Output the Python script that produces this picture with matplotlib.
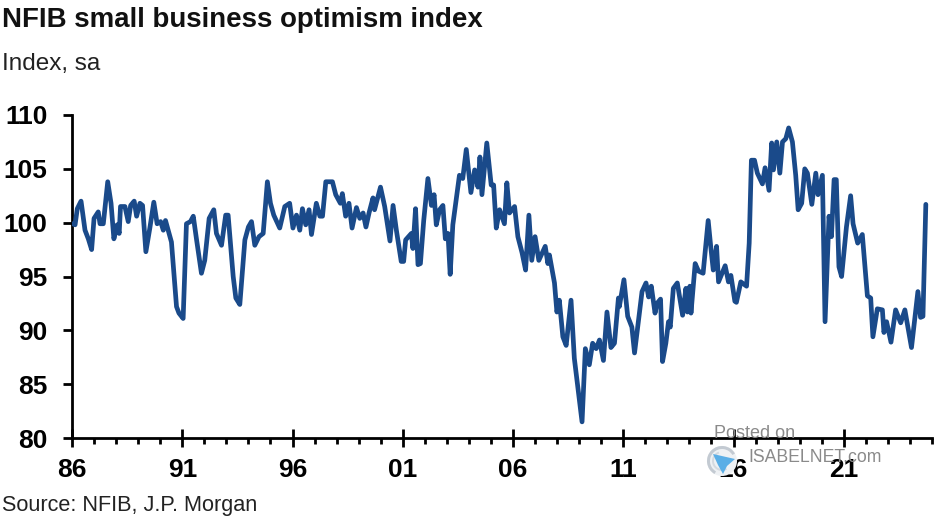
#!/usr/bin/env python
"""NFIB small business optimism index, monthly-style line with year ticks."""
import matplotlib
matplotlib.use("Agg")
import matplotlib.pyplot as plt
from matplotlib.patches import Circle, Polygon, Wedge

# decimal year / index level
years = [
    1986.03, 1986.14, 1986.24, 1986.41, 1986.59, 1986.74, 1986.89, 1987.00, 1987.19, 1987.27,
    1987.42, 1987.62, 1987.77, 1987.90, 1988.05, 1988.14, 1988.20, 1988.40, 1988.55, 1988.66,
    1988.82, 1988.93, 1989.08, 1989.20, 1989.35, 1989.53, 1989.71, 1989.86, 1990.02, 1990.14,
    1990.24, 1990.51, 1990.74, 1990.85, 1991.04, 1991.19, 1991.37, 1991.50, 1991.65, 1991.87,
    1992.02, 1992.22, 1992.43, 1992.55, 1992.78, 1992.97, 1993.08, 1993.31, 1993.43, 1993.61,
    1993.84, 1994.00, 1994.14, 1994.29, 1994.48, 1994.67, 1994.86, 1995.00, 1995.15, 1995.42,
    1995.65, 1995.87, 1996.02, 1996.18, 1996.33, 1996.45, 1996.60, 1996.75, 1996.86, 1997.08,
    1997.24, 1997.36, 1997.51, 1997.81, 1997.96, 1998.17, 1998.26, 1998.41, 1998.56, 1998.70,
    1998.90, 1999.05, 1999.20, 1999.33, 1999.47, 1999.65, 1999.72, 1999.99, 2000.18, 2000.42,
    2000.56, 2000.71, 2000.93, 2001.04, 2001.13, 2001.39, 2001.46, 2001.58, 2001.69, 2001.80,
    2001.95, 2002.14, 2002.30, 2002.42, 2002.52, 2002.67, 2002.82, 2002.93, 2003.05, 2003.15,
    2003.27, 2003.42, 2003.57, 2003.72, 2003.88, 2004.09, 2004.26, 2004.41, 2004.50, 2004.59,
    2004.81, 2005.01, 2005.12, 2005.24, 2005.39, 2005.61, 2005.72, 2005.84, 2006.07, 2006.22,
    2006.41, 2006.57, 2006.72, 2006.85, 2007.00, 2007.17, 2007.46, 2007.58, 2007.65, 2007.88,
    2007.99, 2008.10, 2008.26, 2008.41, 2008.63, 2008.78, 2009.13, 2009.28, 2009.46, 2009.61,
    2009.77, 2009.92, 2010.10, 2010.26, 2010.44, 2010.60, 2010.78, 2010.82, 2011.03, 2011.20,
    2011.39, 2011.51, 2011.85, 2012.03, 2012.15, 2012.27, 2012.44, 2012.53, 2012.69, 2012.78,
    2012.93, 2013.05, 2013.13, 2013.27, 2013.45, 2013.69, 2013.84, 2013.91, 2014.02, 2014.07,
    2014.26, 2014.41, 2014.62, 2014.85, 2014.96, 2015.08, 2015.23, 2015.32, 2015.62, 2015.77,
    2015.88, 2016.06, 2016.13, 2016.33, 2016.59, 2016.71, 2016.81, 2016.95, 2017.08, 2017.31,
    2017.43, 2017.61, 2017.73, 2017.81, 2017.96, 2018.10, 2018.22, 2018.37, 2018.50, 2018.67,
    2018.82, 2018.93, 2019.09, 2019.23, 2019.35, 2019.55, 2019.73, 2019.83, 2020.03, 2020.15,
    2020.33, 2020.44, 2020.56, 2020.66, 2020.78, 2020.90, 2021.12, 2021.31, 2021.42, 2021.63,
    2021.84, 2022.07, 2022.22, 2022.32, 2022.52, 2022.75, 2022.82, 2022.94, 2023.14, 2023.35,
    2023.58, 2023.77, 2024.07, 2024.36, 2024.48, 2024.59, 2024.72,
]
index_level = [
    99.9, 99.8, 101.3, 102.0, 99.3, 98.5, 97.5, 100.4, 101.0, 99.9,
    99.9, 103.8, 101.8, 98.5, 99.8, 99.0, 101.5, 101.5, 100.1, 101.6,
    102.0, 100.6, 101.8, 101.6, 97.3, 99.5, 101.9, 99.9, 100.1, 99.3,
    100.2, 98.2, 92.2, 91.6, 91.1, 99.9, 100.1, 100.6, 98.4, 95.3,
    96.5, 100.4, 101.2, 99.0, 97.9, 100.7, 100.7, 95.0, 93.0, 92.4,
    98.4, 99.6, 100.1, 97.9, 98.7, 99.0, 103.8, 101.8, 100.7, 99.5,
    101.5, 101.8, 99.5, 100.7, 99.3, 101.3, 99.8, 101.2, 98.9, 101.8,
    100.6, 100.6, 103.8, 103.8, 102.6, 101.8, 102.7, 100.6, 101.8, 99.5,
    101.4, 100.4, 100.9, 99.6, 100.9, 102.3, 101.2, 103.3, 101.5, 98.3,
    101.6, 99.3, 96.4, 96.4, 98.4, 99.0, 97.6, 101.3, 96.1, 96.2,
    100.2, 104.1, 101.6, 102.6, 99.8, 101.2, 101.6, 98.5, 99.0, 95.2,
    99.8, 102.1, 104.4, 104.1, 106.8, 102.8, 104.9, 103.3, 106.1, 102.6,
    107.4, 103.5, 103.5, 99.5, 101.2, 99.9, 103.7, 100.9, 101.5, 98.7,
    97.2, 95.6, 100.7, 96.5, 98.7, 96.5, 97.8, 96.2, 97.0, 94.4,
    91.7, 92.8, 89.4, 88.6, 92.8, 87.4, 81.5, 88.3, 86.8, 88.8,
    88.3, 89.1, 87.2, 91.7, 88.4, 88.8, 93.0, 92.2, 94.7, 91.3,
    90.3, 87.9, 93.6, 94.4, 93.1, 94.1, 91.6, 92.5, 92.9, 87.1,
    88.8, 90.8, 90.3, 93.9, 94.4, 91.4, 93.9, 91.7, 94.1, 91.6,
    96.2, 95.5, 95.3, 100.2, 97.9, 95.6, 97.8, 94.5, 96.0, 94.5,
    95.1, 92.7, 92.6, 94.5, 94.1, 98.1, 105.8, 105.8, 104.6, 103.6,
    105.1, 103.0, 107.4, 104.9, 107.5, 104.6, 107.5, 107.8, 108.8, 107.5,
    104.4, 101.2, 101.8, 105.0, 104.6, 101.7, 104.6, 102.6, 104.4, 90.8,
    100.6, 98.7, 104.0, 104.0, 95.9, 95.0, 99.6, 102.5, 99.9, 98.1,
    98.9, 93.2, 93.0, 89.4, 92.0, 91.9, 89.8, 90.8, 88.9, 91.9,
    90.7, 91.9, 88.4, 93.6, 91.2, 91.3, 101.7,
]
y_ticks = [80, 85, 90, 95, 100, 105, 110]
x_tick_years = [1986, 1991, 1996, 2001, 2006, 2011, 2016, 2021]
x_tick_labels = ["86", "91", "96", "01", "06", "11", "16", "21"]
minor_years = list(range(1986, 2026))

W, H = 936, 520
LINE = "#1a4a8a"

plt.rcParams["font.family"] = ["Liberation Sans", "DejaVu Sans"]
fig = plt.figure(figsize=(W / 100, H / 100), dpi=100, facecolor="white")
ax = fig.add_axes([72 / W, 1 - 438 / H, 860 / W, 323 / H])

ax.plot(years, index_level, color=LINE, lw=3.4, solid_joinstyle="round",
        solid_capstyle="round", zorder=3)
ax.set_xlim(1986, 2025)
ax.set_ylim(80, 110)

for side in ("top", "right"):
    ax.spines[side].set_visible(False)
for side in ("left", "bottom"):
    ax.spines[side].set_linewidth(2.0)

ax.set_yticks(y_ticks)
ax.set_xticks(x_tick_years)
ax.set_xticklabels(x_tick_labels)
ax.set_xticks(minor_years, minor=True)
ax.tick_params(axis="y", direction="out", length=6.5, width=2.0, labelsize=19, pad=11)
ax.tick_params(axis="x", which="major", direction="inout", length=13, width=2.0, labelsize=19, pad=8)
ax.tick_params(axis="x", which="minor", direction="out", length=4, width=2.0)
for lab in ax.get_xticklabels() + ax.get_yticklabels():
    lab.set_fontweight("bold")

fig.text(2 / W, 1 - 20 / H, "NFIB small business optimism index", fontsize=19.9,
         fontweight="bold", va="center", color="#111111")
fig.text(2 / W, 1 - 64 / H, "Index, sa", fontsize=17.5, va="center", color="#222222")
fig.text(2 / W, 1 - 506 / H, "Source: NFIB, J.P. Morgan", fontsize=15.6, va="center", color="#222222")

# watermark sits above the axes
GREY = "#8a8a8a"
fig.text(714 / W, 1 - 433 / H, "Posted on", fontsize=13, va="center", color=GREY, zorder=10)
fig.text(748 / W, 1 - 458 / H, "ISABELNET.com", fontsize=12.7, va="center", color=GREY, zorder=10)

# logo drawn in pixel coordinates over the whole figure
logo = fig.add_axes([0, 0, 1, 1], facecolor="none", zorder=9)
logo.set_xlim(0, W)
logo.set_ylim(H, 0)
logo.axis("off")
logo.add_patch(Circle((722, 461), 15, fc="#eef1f4", ec="none"))
logo.add_patch(Wedge((722, 461), 15, 120, 330, width=3, fc="#c3cad2", ec="none"))
logo.add_patch(Wedge((722, 461), 10, 60, 250, width=2, fc="#d5dae0", ec="none"))
logo.add_patch(Polygon([(713, 454), (735, 459), (727, 466), (723, 474), (718, 465)],
                       closed=True, fc="#5aaee6", ec="none"))

fig.savefig("out.png", dpi=100)
